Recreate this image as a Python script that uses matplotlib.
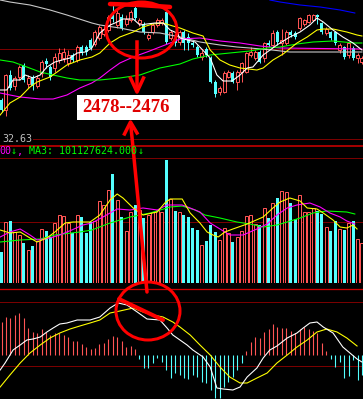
import matplotlib
matplotlib.use("Agg")
import matplotlib.pyplot as plt
from matplotlib.patches import Ellipse, Rectangle
import numpy as np

W, H, DPI = 363, 399, 100
PX = 72.0 / DPI  # one pixel in points

# ---------------- data ----------------
opens = [30,20,55,44,53,65,46,53,44,57, 69,63,62,70,72,67,75,70,83,83,
         90,86,92,96,100,115,105,113,106,110, 122,107,105,92,98,105,107,118,92,92,
         88,98,93,87,83,73,81,72,48,38, 38,53,57,48,58,58,75,72,78,72,
         87,85,98,87,87,98,97,102,106,108, 110,115,107,97,98,98,80,83,75,82, 72,68]
closes = [20,55,42,52,63,50,52,44,52,68, 66,53,73,77,78,75,70,83,77,78,
          82,98,103,101,113,111,117,102,111,118, 112,110,98,95,105,110,110,88,98,87,
          98,87,87,85,75,77,75,48,36,42, 57,58,48,58,67,77,78,78,68,87,
          85,97,88,90,98,95,93,112,110,115, 115,113,98,101,92,87,85,73,87,72, 75,72]
highs = [32,56,60,54,65,67,55,55,55,70, 72,65,77,82,82,80,77,85,85,85,
         92,100,105,104,115,125,120,116,115,120, 125,112,108,97,107,112,112,120,100,94,
         100,100,97,89,85,80,83,74,50,44, 59,60,59,60,68,78,83,80,80,88,
         90,100,100,101,100,100,99,113,111,116, 116,116,108,103,99,99,87,84,88,84, 77,74]
lows = [18,14,40,40,50,48,42,40,42,53, 62,50,58,67,68,64,68,68,75,75,
        80,84,90,94,98,108,102,100,104,108, 110,104,96,90,96,103,105,86,90,84,
        85,80,80,83,73,70,73,47,33,35, 37,52,47,40,48,57,73,70,67,68,
        83,83,85,75,85,93,91,100,104,107, 109,106,96,95,90,85,77,71,72,70, 67,66]

# price moving averages (candle index, level)
ma_white_x = [-0.3,1.2,2.6,4.2,5.3,7.1,8.7,10.2,12.0,13.6,15.4,17.0,18.8,20.3,22.1,24.4,25.5,27.3,29.6,31.1,32.7,34.5,36.3,37.9,39.4,40.1,43.5,46.9,48.4,49.8,51.8,53.6,55.2,56.5,58.8,61.9,64.8,67.1,69.3,70.9,72.3,74.5,76.7,79.0,81.0]
ma_white_y = [40,40,50,50,55,52,55,63,68,70,72,77,78,82,97,105,107,111,111,105,106,107,107,100,97,92,88,72,55,49,49,55,62,63,75,85,93,98,105,112,108,100,93,87,80]
ma_yellow_x = [-0.3,1.9,4.2,6.4,8.0,10.9,12.5,14.7,17.6,20.3,22.1,24.4,26.6,29.6,31.8,34.0,36.3,38.5,40.1,43.0,45.3,46.9,49.1,51.3,53.6,57.4,58.8,61.0,63.3,66.4,68.7,70.9,72.3,74.5,77.6,79.9,81.0]
ma_yellow_y = [15,27,33,43,48,53,58,65,70,73,77,87,93,98,103,106,107,104,102,97,94,80,70,65,62,60,62,70,76,87,93,100,101,101,98,95,94]
ma_gray_x = [-0.3,1.9,6.4,10.9,14.7,20.3,22.1,26.6,31.1,35.6,40.1,44.6,49.1,52.9,55.8,60.8,64.8,81.0]
ma_gray_y = [130,128,125,120,115,107,105,102,98,97,93,88,85,83,82,80,78,78]
ma_magenta_x = [-0.3,1.9,4.2,8.7,11.6,14.7,17.6,20.3,22.1,24.4,26.6,29.6,32.7,35.6,38.5,40.1,44.6,49.1,53.6,58.1,62.6,81.0]
ma_magenta_y = [37,35,33,31,31,35,42,47,52,60,67,73,78,83,88,91,92,89,87,84,82,81]
ma_green_x = [-0.3,2.6,5.7,8.7,11.6,14.7,17.6,22.1,26.6,31.1,35.6,40.1,43.0,46.9,51.3,55.8,59.7,62.6,66.4,70.0,74.5,79.4,81.0]
ma_green_y = [70,68,63,58,55,52,50,50,52,55,62,66,71,75,77,79,82,83,86,88,89,87,87]
ma_blue_x = [60.3,62.6,67.1,71.6,76.1,79.4]
ma_blue_y = [130,128,125,123,120,117]

# volume
volume = [31,61,62,51,48,40,33,37,42,54, 52,46,60,68,67,60,50,68,66,50,
          61,62,82,78,93,109,83,66,52,71, 78,73,65,68,71,73,71,125,84,72,
          71,68,66,55,53,38,42,58,51,43, 55,50,41,46,52,67,68,59,58,75,
          65,80,85,92,91,80,64,88,71,71, 75,72,69,56,52,62,54,53,60,62, 44,40]
vma_yellow_x = [-0.3,1.9,4.2,6.4,8.0,10.2,12.0,14.3,16.1,19.9,22.1,24.4,26.0,27.3,29.6,31.8,35.0,36.7,37.9,40.6,42.4,44.6,46.2,47.5,48.7,50.2,52.0,55.2,58.8,61.0,62.6,64.8,67.1,68.7,70.9,72.3,74.5,76.1,77.6,79.0,79.9]
vma_yellow_y = [53,50,51,45,41,45,51,60,61,61,68,83,89,85,75,68,71,80,84,84,70,60,51,48,46,51,54,59,66,75,81,85,82,75,74,70,63,56,55,58,54]
vma_magenta_x = [-0.3,1.9,4.2,6.4,8.0,10.9,13.1,15.8,18.3,20.3,22.8,26.0,28.9,31.8,35.0,37.2,40.6,42.4,44.6,46.9,49.1,51.3,54.3,57.4,59.7,61.9,64.2,66.4,69.3,71.6,73.8,76.1,77.6,79.4]
vma_magenta_y = [46,51,54,48,43,45,48,53,58,60,66,74,73,75,73,78,78,75,71,60,54,48,48,54,59,68,75,78,80,76,70,66,62,59]
vma_green_x = [-0.3,4.2,8.7,12.0,17.6,20.3,24.4,28.9,33.4,37.9,40.6,43.5,45.7,49.1,52.9,55.8,58.8,61.9,64.2,67.1,70.0,73.1,77.6,79.4]
vma_green_y = [41,43,44,48,51,53,60,66,70,76,77,73,68,65,61,59,56,58,61,65,70,72,71,69]

# MACD
macd_hist = [33,38,37,40,42,37,27,23,22,26, 23,20,22,22,20,18,14,14,11,8,
             6,7,11,12,16,19,18,14,8,9, 6,-4,-13,-13,-8,-3,-7,-15,-23,-18,
             -20,-23,-24,-20,-22,-27,-28,-35,-43,-43, -32,-27,-22,-15,-8,4,13,18,17,23,
             26,31,28,27,27,24,22,26,28,26, 24,22,12,4,-4,-12,-7,-23,-21,-5, -25,-20]
dif_x = [-0.3,0.8,2.6,4.2,5.7,7.1,8.7,10.2,11.6,13.1,14.7,17.0,19.9,22.1,24.4,26.2,28.2,30.5,32.7,35.6,37.2,38.5,40.1,41.7,43.0,45.3,46.9,48.4,49.8,52.0,53.6,55.2,57.4,58.8,60.3,61.9,64.2,66.4,67.8,69.3,70.9,72.3,74.5,76.7,78.3,79.9,81.0]
dif_y = [-15,-8,5,10,15,16,18,23,27,31,32,35,35,38,47,52,50,43,36,35,27,20,15,10,5,-2,-12,-33,-34,-35,-32,-22,-13,-3,5,9,17,22,27,32,33,28,22,8,2,-4,-7]
dea_x = [-0.3,1.9,4.2,6.4,8.7,10.9,13.1,15.4,17.6,19.9,22.1,24.4,26.6,29.6,31.8,34.0,36.3,38.5,40.1,42.4,44.6,46.9,49.1,51.3,53.6,55.2,57.4,59.7,61.9,64.2,66.4,68.7,70.9,73.1,75.4,77.6,79.9]
dea_y = [-32,-20,-8,2,10,17,22,26,29,32,35,42,44,47,43,40,38,33,28,20,10,0,-12,-22,-28,-28,-23,-18,-8,0,8,15,23,26,23,17,9]

price_label = "32.63"
vol_label_parts = [("00", "#ff00ff"), ("\u2193", "#00ff00"), (",", "#ff00ff"),
                   (" MA3: 101127624.000", "#00ff00"), ("\u2193", "#00ff00")]
note_text = "2478--2476"

# ---------------- drawing ----------------
RED = "#ff5454"
CYAN = "#54ffff"
DRED = "#7a0000"
BRED = "#cc0000"
ANN = "#ff0000"

fig = plt.figure(figsize=(W / DPI, H / DPI), dpi=DPI, facecolor="black")

# background layer (grid/separator lines)
bg = fig.add_axes([0, 0, 1, 1])
bg.set_xlim(0, W); bg.set_ylim(H, 0); bg.axis("off")
bg.set_facecolor("black")
for y, x0, col, lw in [(49, 0, DRED, 1), (139, 33, DRED, 1), (145.5, 0, BRED, 1.6),
                       (158, 0, DRED, 1), (222, 0, DRED, 1), (289, 0, BRED, 1.3),
                       (302, 0, DRED, 1), (366, 0, DRED, 1)]:
    bg.plot([x0, W], [y, y], color=col, lw=lw * PX)

n = len(opens)
idx = np.arange(n)
XL = (-1.5 / 4.45, (W - 1.5) / 4.45)
bw = 3.0 / 4.45


def panel(top, bottom, ylim):
    ax = fig.add_axes([0, 1 - bottom / H, 1, (bottom - top) / H])
    ax.set_xlim(*XL); ax.set_ylim(*ylim)
    ax.axis("off"); ax.patch.set_alpha(0)
    return ax


o = np.array(opens); c = np.array(closes); hi = np.array(highs); lo = np.array(lows)
up = c >= o

# price panel
pa = panel(0, 130, (0, 130))
body_lo = np.minimum(o, c); body_hi = np.maximum(o, c)
pa.vlines(idx[~up], lo[~up], hi[~up], color=CYAN, lw=PX)
pa.vlines(idx[up], body_hi[up], hi[up], color=RED, lw=PX)
pa.vlines(idx[up], lo[up], body_lo[up], color=RED, lw=PX)
pa.bar(idx[~up], (body_hi - body_lo)[~up], bottom=body_lo[~up], width=bw,
       color=CYAN, edgecolor=CYAN, lw=0)
pa.bar(idx[up], (body_hi - body_lo)[up], bottom=body_lo[up], width=bw,
       facecolor="black", edgecolor=RED, lw=PX)
for xs, ys, col in [(ma_gray_x, ma_gray_y, "#c8c8c8"), (ma_magenta_x, ma_magenta_y, "#ff00ff"),
                    (ma_green_x, ma_green_y, "#00ff00"), (ma_blue_x, ma_blue_y, "#0000ff"),
                    (ma_yellow_x, ma_yellow_y, "#ffff00"), (ma_white_x, ma_white_y, "#ffffff")]:
    pa.plot(xs, ys, color=col, lw=1.1 * PX)

# volume panel
va = panel(160, 283, (0, 123))
v = np.array(volume)
va.bar(idx[~up], v[~up], width=bw, color=CYAN, lw=0)
va.bar(idx[up], v[up], width=bw, facecolor="black", edgecolor=RED, lw=PX)
for xs, ys, col in [(vma_green_x, vma_green_y, "#00ff00"), (vma_magenta_x, vma_magenta_y, "#ff00ff"),
                    (vma_yellow_x, vma_yellow_y, "#ffff00")]:
    va.plot(xs, ys, color=col, lw=1.1 * PX)

# MACD panel
ma = panel(290, 399, (-44, 65))
hst = np.array(macd_hist)
ma.vlines(idx, 0, hst, colors=[RED if h >= 0 else CYAN for h in hst], lw=1.1 * PX)
ma.plot(dea_x, dea_y, color="#ffff00", lw=1.1 * PX)
ma.plot(dif_x, dif_y, color="#ffffff", lw=1.1 * PX)

# foreground layer: texts and annotations
fg = fig.add_axes([0, 0, 1, 1])
fg.set_xlim(0, W); fg.set_ylim(H, 0); fg.axis("off"); fg.patch.set_alpha(0)
mono = ["DejaVu Sans Mono", "DejaVu Sans"]
fg.text(2, 139.5, price_label, color="#c0c0c0", fontsize=7.2, family=mono, va="center", ha="left")
xpos = -1.0
for txt, col in vol_label_parts:
    fg.text(xpos, 151.5, txt, color=col, fontsize=7.2, family=mono, va="center", ha="left")
    xpos += 6.02 * len(txt)

# top circle + stroke + arrow
fg.add_patch(Ellipse((141.5, 30), 71, 56, fill=False, edgecolor=ANN, lw=3 * PX))
fg.plot([110, 140, 170], [4, 5, 7], color=ANN, lw=4.5 * PX, solid_capstyle="round")
fg.plot([137, 137], [42, 90], color=ANN, lw=3.5 * PX)
fg.plot([130.5, 137, 143.5], [78, 92, 78], color=ANN, lw=3.5 * PX)

# note box
fg.add_patch(Rectangle((77, 95), 103, 25, facecolor="white", edgecolor="none"))
fg.text(82, 108, note_text, color="#e00000", fontsize=13.5, family="Liberation Serif",
        weight="bold", va="center", ha="left")

# second arrow and circle
fg.plot([147, 131], [292, 127], color=ANN, lw=3.5 * PX, solid_capstyle="round")
fg.plot([124.5, 130.5, 137], [134, 122, 133], color=ANN, lw=3.5 * PX)
fg.add_patch(Ellipse((148, 311), 64, 58, fill=False, edgecolor=ANN, lw=3 * PX))
fg.plot([119, 163], [299, 320], color=ANN, lw=4 * PX, solid_capstyle="round")

fig.savefig("out.png", dpi=DPI, facecolor="black")
